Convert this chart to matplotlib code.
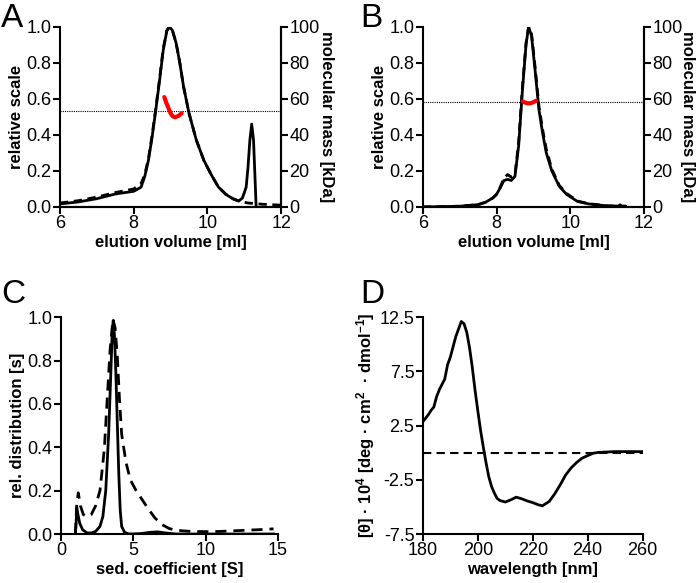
import matplotlib
matplotlib.use("Agg")
import matplotlib.pyplot as plt

plt.rcParams['font.family'] = ['Liberation Sans', 'DejaVu Sans']
plt.rcParams['axes.unicode_minus'] = False
plt.rcParams['mathtext.fontset'] = 'custom'
plt.rcParams['mathtext.rm'] = 'Liberation Sans:bold'
plt.rcParams['mathtext.bf'] = 'Liberation Sans:bold'
plt.rcParams['mathtext.it'] = 'Liberation Sans:bold'

# ---------------- Panel A (SEC-MALS) ----------------
a_x = [6.0, 6.5, 7.0, 7.5, 8.0, 8.2, 8.3, 8.4, 8.5, 8.6, 8.7, 8.8, 8.9, 8.97, 9.05, 9.15,
       9.25, 9.35, 9.5, 9.7, 9.9, 10.1, 10.3, 10.5, 10.7, 10.85, 10.95, 11.05, 11.1, 11.15,
       11.2, 11.25, 11.3, 11.32]
a_solid = [0.017, 0.028, 0.046, 0.072, 0.087, 0.11, 0.17, 0.26, 0.39, 0.54, 0.70, 0.87, 0.98,
           1.0, 0.98, 0.91, 0.80, 0.67, 0.52, 0.37, 0.26, 0.18, 0.11, 0.07, 0.044, 0.033, 0.05,
           0.11, 0.22, 0.37, 0.46, 0.37, 0.11, 0.0]
a_dash_x = [6.0, 6.5, 7.0, 7.5, 8.0, 8.2, 8.3, 8.4, 8.5, 8.6, 8.7, 8.8, 8.9, 8.97, 9.05, 9.15,
            9.25, 9.35, 9.5, 9.7, 9.9, 10.1, 10.3, 10.5, 10.7, 10.9, 11.1, 11.5, 12.0]
a_dash = [0.022, 0.035, 0.055, 0.08, 0.10, 0.13, 0.18, 0.27, 0.40, 0.55, 0.71, 0.88, 0.98,
          1.0, 0.98, 0.91, 0.80, 0.67, 0.52, 0.37, 0.26, 0.18, 0.11, 0.07, 0.045, 0.03, 0.022,
          0.015, 0.01]
a_mass_x = [8.83, 8.88, 8.94, 9.0, 9.06, 9.12, 9.21, 9.3]
a_mass = [61.0, 58.0, 55.0, 52.0, 50.3, 49.8, 50.5, 52.0]
a_mass_ref = 53.0

# ---------------- Panel B ----------------
b_x = [6.0, 7.0, 7.5, 7.7, 7.9, 8.0, 8.1, 8.2, 8.3, 8.4, 8.5, 8.6, 8.7, 8.8, 8.87, 8.95, 9.05,
       9.15, 9.25, 9.35, 9.5, 9.7, 9.9, 10.2, 10.5, 11.0, 11.5]
b_solid = [0.0, 0.004, 0.013, 0.026, 0.05, 0.07, 0.106, 0.147, 0.153, 0.147, 0.17, 0.34, 0.64,
           0.90, 1.0, 0.95, 0.75, 0.54, 0.41, 0.30, 0.20, 0.115, 0.07, 0.03, 0.017, 0.006, 0.004]
b_dash_x = [6.0, 7.0, 7.5, 7.7, 7.9, 8.0, 8.1, 8.2, 8.3, 8.4, 8.5, 8.6, 8.7, 8.8, 8.87, 8.95,
            9.05, 9.15, 9.25, 9.35, 9.5, 9.7, 9.9, 10.2, 10.5, 11.0, 11.3, 11.35, 11.4, 11.5,
            11.55, 11.6]
b_dash = [0.0, 0.004, 0.013, 0.026, 0.05, 0.07, 0.11, 0.16, 0.18, 0.165, 0.18, 0.36, 0.66,
          0.91, 1.0, 0.96, 0.77, 0.56, 0.43, 0.32, 0.21, 0.12, 0.075, 0.033, 0.018, 0.006,
          0.005, 0.012, 0.004, 0.004, 0.012, 0.004]
b_mass_x = [8.71, 8.78, 8.85, 8.92, 8.98, 9.04, 9.07]
b_mass = [58.6, 57.9, 57.5, 57.6, 58.0, 58.6, 59.0]
b_mass_ref = 58.5

# ---------------- Panel C (AUC) ----------------
c_solid_x = [1.0, 1.05, 1.1, 1.15, 1.3, 1.5, 1.8, 2.1, 2.4, 2.7, 2.9, 3.1, 3.3, 3.45, 3.55,
             3.62, 3.7, 3.8, 3.9, 4.0, 4.1, 4.2, 4.4, 4.7, 5.5, 6.2, 6.7, 7.2, 8.0, 14.7]
c_solid = [0.0, 0.05, 0.12, 0.10, 0.05, 0.02, 0.005, 0.005, 0.012, 0.035, 0.08, 0.20, 0.46,
           0.74, 0.94, 0.985, 0.92, 0.74, 0.51, 0.28, 0.11, 0.035, 0.008, 0.0, 0.002, 0.008,
           0.01, 0.005, 0.0, 0.0]
c_dash_x = [1.0, 1.1, 1.2, 1.35, 1.55, 1.8, 2.1, 2.4, 2.7, 3.0, 3.2, 3.4, 3.6, 3.75, 3.9,
            4.05, 4.2, 4.5, 4.8, 5.2, 5.6, 6.0, 6.5, 7.0, 7.5, 8.0, 9.0, 10.0, 11.0, 12.0,
            13.0, 14.0, 14.7]
c_dash = [0.0, 0.14, 0.19, 0.13, 0.09, 0.08, 0.09, 0.13, 0.20, 0.39, 0.62, 0.85, 0.99, 0.95,
          0.82, 0.62, 0.46, 0.33, 0.25, 0.20, 0.16, 0.12, 0.074, 0.043, 0.025, 0.017, 0.012,
          0.011, 0.012, 0.015, 0.018, 0.021, 0.024]

# ---------------- Panel D (CD) ----------------
d_x = [180, 182, 183, 184, 185, 186, 188, 189, 190, 192, 194, 195, 196, 197, 198, 199, 200,
       201, 202, 203, 204, 205, 206, 207, 208, 210, 212, 214, 216, 218, 220, 222, 223.5, 226,
       228, 230, 232, 234, 236, 238, 240, 242, 244, 250, 260]
d_y = [2.85, 3.5, 3.9, 4.2, 5.15, 5.8, 6.8, 8.1, 8.8, 10.7, 12.1, 11.9, 11.1, 9.7, 7.9, 5.8,
       3.9, 2.1, 0.55, -0.9, -2.2, -3.1, -3.7, -4.2, -4.4, -4.55, -4.35, -4.1, -4.25, -4.45,
       -4.6, -4.8, -4.9, -4.5, -3.8, -2.97, -2.05, -1.4, -0.9, -0.5, -0.27, -0.05, 0.03, 0.1,
       0.1]
d_zero_x = [180, 260]
d_zero = [0.0, 0.0]

fig = plt.figure(figsize=(7.0, 5.83), dpi=100)

TICK_FS = 13
LABEL_FS = 12
LW = 2.0
SPINE_LW = 1.5
LETTER_FS = 24


def style(ax, right=False):
    ax.spines['top'].set_visible(False)
    ax.spines['right'].set_visible(right)
    for s in ax.spines.values():
        s.set_linewidth(SPINE_LW)
    ax.tick_params(direction='out', length=5, width=SPINE_LW, labelsize=TICK_FS, pad=1)


def sec_panel(rect, xs, ys, dxs, dys, mx, my, mref, letter, lx, rpad):
    ax = fig.add_axes(rect)
    ax.plot(dxs, dys, color='black', lw=LW, ls=(0, (3, 2)))
    ax.plot(xs, ys, color='black', lw=LW)
    ax.set_xlim(6, 12)
    ax.set_ylim(0, 1.0)
    ax.set_xticks([6, 8, 10, 12])
    ax.set_yticks([0.0, 0.2, 0.4, 0.6, 0.8, 1.0])
    ax.set_yticklabels(['0.0', '0.2', '0.4', '0.6', '0.8', '1.0'])
    ax.set_xlabel('elution volume [ml]', fontsize=LABEL_FS, fontweight='bold', labelpad=2)
    ax.set_ylabel('relative scale', fontsize=LABEL_FS, fontweight='bold', labelpad=2)
    style(ax, right=True)
    ax2 = ax.twinx()
    ax2.set_ylim(0, 100)
    ax2.set_yticks([0, 20, 40, 60, 80, 100])
    ax2.axhline(mref, color='black', lw=0.8, ls=(0, (1, 1)))
    ax2.plot(mx, my, color='#ff0000', lw=3.0, solid_capstyle='round')
    ax2.set_ylabel('molecular mass [kDa]', fontsize=LABEL_FS, fontweight='bold',
                   rotation=270, labelpad=rpad)
    style(ax2, right=True)
    ax2.spines['left'].set_visible(False)
    fig.text(lx, 0.995, letter, fontsize=LETTER_FS, va='top', ha='left')
    return ax


sec_panel([0.0857, 0.645, 0.316, 0.309], a_x, a_solid, a_dash_x, a_dash,
          a_mass_x, a_mass, a_mass_ref, 'A', 0.002, 10)
sec_panel([0.604, 0.645, 0.316, 0.309], b_x, b_solid, b_dash_x, b_dash,
          b_mass_x, b_mass, b_mass_ref, 'B', 0.515, 9)

# Panel C
axc = fig.add_axes([0.087, 0.084, 0.31, 0.372])
axc.plot(c_dash_x, c_dash, color='black', lw=LW, ls=(0, (4, 2.5)))
axc.plot(c_solid_x, c_solid, color='black', lw=LW)
axc.set_xlim(0, 15)
axc.set_ylim(0, 1.0)
axc.set_xticks([0, 5, 10, 15])
axc.set_yticks([0.0, 0.2, 0.4, 0.6, 0.8, 1.0])
axc.set_yticklabels(['0.0', '0.2', '0.4', '0.6', '0.8', '1.0'])
axc.set_xlabel('sed. coefficient [S]', fontsize=LABEL_FS, fontweight='bold', labelpad=2)
axc.set_ylabel('rel. distribution [s]', fontsize=LABEL_FS, fontweight='bold', labelpad=2)
style(axc)
fig.text(0.002, 0.522, 'C', fontsize=LETTER_FS, va='top', ha='left')

# Panel D
axd = fig.add_axes([0.604, 0.084, 0.314, 0.372])
axd.plot(d_zero_x, d_zero, color='black', lw=1.5, ls=(0, (4, 2.5)))
axd.plot(d_x, d_y, color='black', lw=LW)
axd.set_xlim(180, 260)
axd.set_ylim(-7.5, 12.5)
axd.set_xticks([180, 200, 220, 240, 260])
axd.set_yticks([-7.5, -2.5, 2.5, 7.5, 12.5])
axd.set_yticklabels(['-7.5', '-2.5', '2.5', '7.5', '12.5'])
axd.set_xlabel('wavelength [nm]', fontsize=LABEL_FS, fontweight='bold', labelpad=2)
axd.set_ylabel(r'[θ] · 10$^{4}$ [deg · cm$^{2}$  · dmol$^{-1}$]', fontsize=LABEL_FS,
               fontweight='bold', labelpad=2)
style(axd)
fig.text(0.515, 0.522, 'D', fontsize=LETTER_FS, va='top', ha='left')

fig.savefig('out.png', dpi=100)
